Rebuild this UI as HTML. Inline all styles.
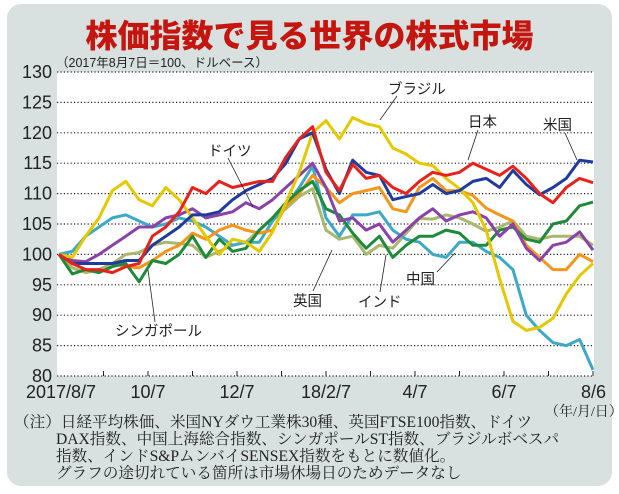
<!DOCTYPE html>
<html><head><meta charset="utf-8">
<style>
body{margin:0;width:619px;height:494px;background:#fff;overflow:hidden;font-family:"Liberation Sans","Noto Sans CJK JP",sans-serif;}
#panel{position:absolute;left:7px;top:4px;width:605px;height:482px;background:#d8e0e0;border-radius:14px;}
#title{position:absolute;left:0;top:11px;width:619px;text-align:center;font-size:32px;font-weight:900;color:#c4160e;font-family:"Noto Sans CJK JP",sans-serif;letter-spacing:0px;}
svg{position:absolute;left:0;top:0;}
.note{position:absolute;font-family:"Liberation Serif","Noto Serif CJK SC",serif;font-size:15.6px;color:#222;white-space:nowrap;}
</style></head><body>
<div id="panel"></div>
<div id="title">株価指数で見る世界の株式市場</div>
<svg id="chart" width="619" height="494"></svg>
<div class="note" style="left:14px;top:410px;">（注）日経平均株価、米国NYダウ工業株30種、英国FTSE100指数、ドイツ</div>
<div class="note" style="left:56px;top:427px;">DAX指数、中国上海総合指数、シンガポールST指数、ブラジルボベスパ</div>
<div class="note" style="left:56px;top:444px;">指数、インドS&amp;PムンバイSENSEX指数をもとに数値化。</div>
<div class="note" style="left:56px;top:461px;">グラフの途切れている箇所は市場休場日のためデータなし</div>
<div class="note" style="left:545px;top:401px;font-size:14px;">（年/月/日）</div>
<script>
const yTicks=[130,125,120,115,110,105,100,95,90,85,80];
const xLabels=["2017/8/7","10/7","12/7","18/2/7","4/7","6/7","8/6"];
const xLabelMonths=[0,2,4,6,8,10,12];
const japan=[100,98.5,97.5,97.5,97,98,98.5,103,104.5,107,111,110,112,111,111.5,112,112,116,119,121,113.5,110.5,114.8,112.5,113,111,110,112,113.5,113,113.5,115,114,113,114.5,112.5,110,108.5,111,112.5,111.8];
const usa=[100,98.5,98.5,98.5,98.5,99,99,101.5,103,104.5,106.5,106.5,107,109,110.5,111.5,112.5,115,119,120,114,110,115.5,113.5,113,109,109.5,110,111.5,110,110.5,112,112.5,111,113.8,111.5,109.8,111,112.5,115.5,115.2];
const brazil=[100,99.5,103,106,110.5,112,109,108,111,109,106,103,100,102.5,102,100.5,103.7,108.5,113.5,120,122,119,122.5,121.5,121,117.5,116.5,115,114.6,112.5,110.8,108.5,104,96,89,87.5,88,89.5,93.5,96.5,98.5];
const germany=[100,99,98.8,100,101.5,103,104.5,104.5,106,106.5,107.5,106,106.5,107,108.5,107.5,109,111,113,115,111,105.5,106,104,105,102,104,106,107.5,105.5,106.5,107,106,103,105,101,99,101.5,102,103.7,100.7];
const china=[100,100.5,103,104.5,106,106.5,105.5,104.5,105,106,105.5,104.5,103,101.5,102,102,105.5,108,111,114.5,106,103,106.5,106.5,107,104,102.5,102,100,99.5,102,102,100.5,99.5,97.5,90,87.5,85.5,85,86,81];
const india=[100,98.5,98.5,98.5,98.5,98,97.8,99,100.5,101.5,103.5,102.5,104,104.8,104,103.5,104,108,110,113,111,108.5,110,110.5,111,107.5,107,111,112.5,110.5,110.5,109.7,107.6,106.5,105.5,101.5,99.5,97.5,97.5,100,98.8];
const singapore=[100,96.8,97.5,97,98,98.5,95.5,99,98.5,100,103,99.5,102.5,100.5,101,104,106,108.5,110.5,112,107.5,106.5,103.5,101,103,99.5,101.5,103,103,104,103.5,101.5,101.5,104,104.5,102.5,102,105,105.5,108,108.6];
const uk=[100,97.8,97,97.5,98.5,100,100.3,101.5,102,101.8,101.5,99.5,100.5,101.5,102,104,106,107.5,109.5,110.8,104,102.5,103,100,101.5,101,103.5,105.9,105.8,106.5,106,105,103.8,104.5,105.5,103,102.5,103,103,103,101.5];
const seriesList=[["uk",uk,"#a9b86c"],["china",china,"#3ea9c6"],["india",india,"#f4961c"],["singapore",singapore,"#1f8a3b"],["germany",germany,"#8a42a8"],["brazil",brazil,"#e5c800"],["usa",usa,"#1f3c9c"],["japan",japan,"#e8221b"]];
const NS="http://www.w3.org/2000/svg";
const svg=document.getElementById('chart');
const PL=59,PR=593,PT=72,PB=376;
const N=japan.length;
function xs(i){return PL+i*(PR-PL)/(N-1);}
function xm(m){return PL+m*(PR-PL)/12;}
function ys(v){return PT+(130-v)*(PB-PT)/50;}
function mk(t,a){const e=document.createElementNS(NS,t);for(const k in a)e.setAttribute(k,a[k]);svg.appendChild(e);return e;}
const bg=mk('rect',{x:57,y:PT,width:537,height:PB-PT,fill:'#fff'});


yTicks.forEach(v=>{
 const g=mk('line',{x1:57,x2:594,y1:ys(v),y2:ys(v),stroke:'#222','stroke-width':1.2,'stroke-dasharray':'1.2,2.2'});
 
 
 const t=mk('text',{x:52,y:ys(v)+6,'text-anchor':'end','font-size':18,fill:'#222','font-family':'Liberation Sans, sans-serif'});
 t.textContent=v;
 
 
});
for(let m=1;m<=12;m++){
 const tk=mk('line',{x1:xm(m),x2:xm(m),y1:PB,y2:PB-5,stroke:'#222','stroke-width':1});
 
 
}
xLabels.forEach((l,i)=>{
 const m=xLabelMonths[i];
 const anchor=m===12?'end':'middle';
 const x=m===0?61:(m===12?606:xm(m));
 const t=mk('text',{x:x,y:398,'text-anchor':anchor,'font-size':18,fill:'#222','font-family':'Liberation Sans, sans-serif'});
 t.textContent=l;
 
 
});
const st=mk('text',{x:56,y:67,'font-size':12.5,fill:'#222','font-family':'Liberation Sans, Noto Sans CJK JP, sans-serif'});
st.textContent='（2017年8月7日＝100、ドルベース）';


seriesList.forEach(([name,vals,col])=>{
 const d=vals.map((v,i)=>(i?'L':'M')+xs(i).toFixed(1)+','+ys(v).toFixed(1)).join('');
 const p=mk('path',{d:d,fill:'none',stroke:col,'stroke-width':3,'stroke-linejoin':'round'});
 
 
});
const ann=[["ドイツ",208,156,228,158,253,207],["シンガポール",115,336,155,322,148,270],["英国",293,306,313,291,332,250],["インド",358,307,380,292,386,255],["中国",406,284,437,272,455,253],["ブラジル",388,94,397,96,380,120],["日本",468,127,478,130,468,160],["米国",543,130,565,133,577,160]];
ann.forEach(a=>{
 const ln=mk('line',{x1:a[3],y1:a[4],x2:a[5],y2:a[6],stroke:'#222','stroke-width':0.8});
 
 
 const t=mk('text',{x:a[1],y:a[2],'font-size':14.5,fill:'#222','font-family':'Noto Sans CJK JP, sans-serif'});
 t.textContent=a[0];
 
 
});
</script>
</body></html>
